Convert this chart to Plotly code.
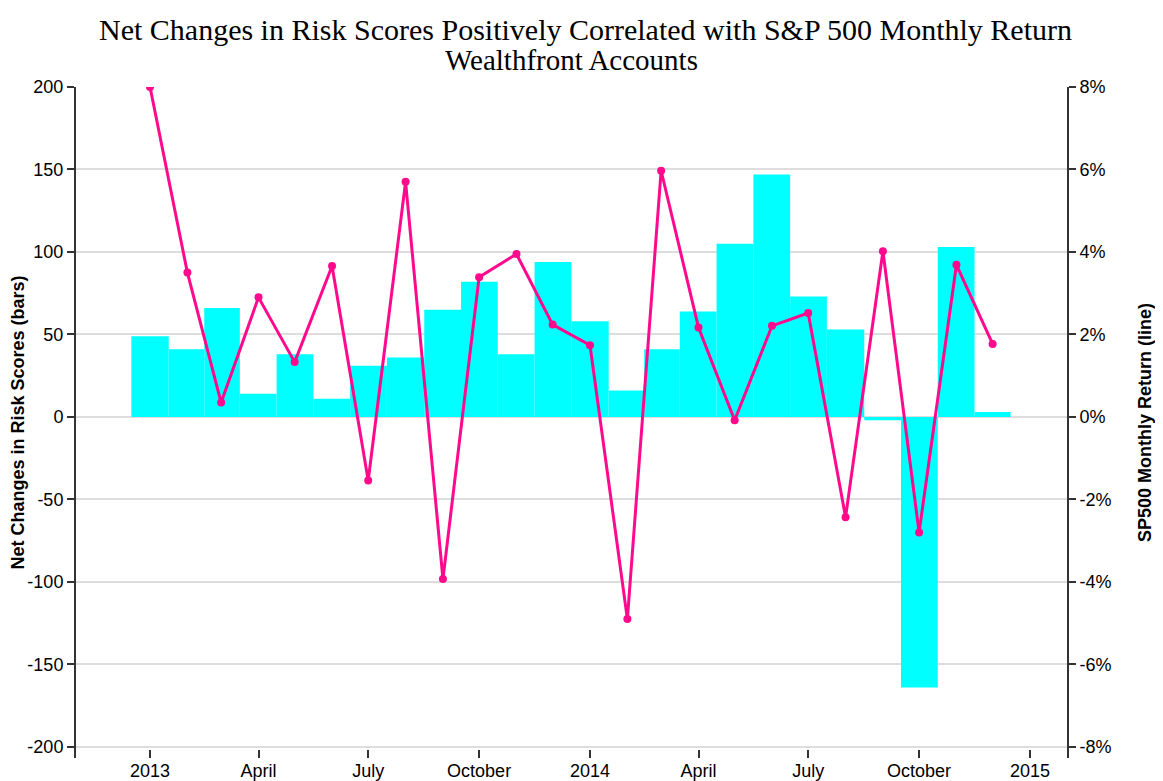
import pandas as pd
import plotly.graph_objects as go

# monthly data, Jan 2013 - Dec 2014
months = [
    "2013-01-01", "2013-02-01", "2013-03-01", "2013-04-01", "2013-05-01", "2013-06-01",
    "2013-07-01", "2013-08-01", "2013-09-01", "2013-10-01", "2013-11-01", "2013-12-01",
    "2014-01-01", "2014-02-01", "2014-03-01", "2014-04-01", "2014-05-01", "2014-06-01",
    "2014-07-01", "2014-08-01", "2014-09-01", "2014-10-01", "2014-11-01", "2014-12-01",
]
net_risk_changes = [
    49, 41, 66, 14, 38, 11, 31, 36, 65, 82, 38, 94,
    58, 16, 41, 64, 105, 147, 73, 53, -2, -164, 103, 3,
]
sp500_return = [
    8.0, 3.5, 0.35, 2.9, 1.33, 3.66, -1.54, 5.7, -3.93, 3.39, 3.95, 2.24,
    1.74, -4.9, 5.97, 2.17, -0.08, 2.21, 2.52, -2.43, 4.02, -2.8, 3.69, 1.77,
]
x_tick_vals = [
    "2013-01-01", "2013-04-01", "2013-07-01", "2013-10-01", "2014-01-01",
    "2014-04-01", "2014-07-01", "2014-10-01", "2015-01-01",
]
x_tick_text = ["2013", "April", "July", "October", "2014", "April", "July", "October", "2015"]
left_ticks = [-200, -150, -100, -50, 0, 50, 100, 150, 200]
left_tick_text = ["-200", "-150", "-100", "-50", "0", "50", "100", "150", "200"]
right_ticks = [-8, -6, -4, -2, 0, 2, 4, 6, 8]
right_tick_text = ["-8%", "-6%", "-4%", "-2%", "0%", "2%", "4%", "6%", "8%"]

# bars fill the space between midpoints of neighbouring months
dates = pd.to_datetime(pd.Series(months))
ms = dates.astype("int64") // 10**6
mids = ((ms + ms.shift(-1)) / 2).tolist()
left_edges = [ms[0] - (ms[1] - ms[0]) / 2] + mids[:-1]
right_edges = mids[:-1] + [ms.iloc[-1] + (ms.iloc[-1] - ms.iloc[-2]) / 2]
bar_width = [r - l for l, r in zip(left_edges, right_edges)]
bar_offset = [l - c for l, c in zip(left_edges, ms)]

sans = "Liberation Sans, Arial, sans-serif"
serif = "Liberation Serif, Times New Roman, serif"
axis_col = "#333333"
pink = "#ff0a8c"

# page body has an 8px margin, so the figure is 8px smaller than the window
W, H = 1155, 773
fig = go.Figure()
fig.add_trace(go.Bar(
    x=months, y=net_risk_changes, width=bar_width, offset=bar_offset,
    marker=dict(color="#00ffff", line=dict(width=0)), yaxis="y",
))
fig.add_trace(go.Scatter(
    x=months, y=sp500_return, mode="lines+markers", yaxis="y2",
    line=dict(color=pink, width=3),
    marker=dict(color=pink, size=8),
))

fig.update_layout(
    width=W, height=H,
    margin=dict(l=68, r=96, t=79, b=23, autoexpand=False),
    paper_bgcolor="white", plot_bgcolor="white",
    showlegend=False,
    title=dict(
        text="Net Changes in Risk Scores Positively Correlated with S&P 500 Monthly Return",
        x=0.5, xanchor="center", y=1 - 21 / H, yanchor="middle",
        font=dict(family=serif, size=30, color="black"),
    ),
    annotations=[dict(
        text="Wealthfront Accounts", xref="paper", yref="paper",
        x=0.5, y=1 + (79 - 52) / 671, xanchor="center", yanchor="middle",
        showarrow=False,
        font=dict(family=serif, size=29, color="black"),
    )],
    xaxis=dict(
        type="date", range=["2012-10-31 14:00", "2015-01-31 17:00"],
        tickvals=x_tick_vals, ticktext=x_tick_text,
        ticks="inside", ticklen=8, tickwidth=2, tickcolor=axis_col,
        showline=False, showgrid=False, zeroline=False,
        tickfont=dict(family=sans, size=18, color="black"),
        automargin=False,
    ),
    yaxis=dict(
        range=[-206.7, 200], tickvals=left_ticks, ticktext=left_tick_text,
        showline=True, linecolor=axis_col, linewidth=2,
        ticks="outside", ticklen=7, tickwidth=2, tickcolor=axis_col,
        showgrid=True, gridcolor="#dddddd", gridwidth=1.5, zeroline=False,
        tickfont=dict(family=sans, size=18, color="black"),
        title=dict(text="<b>Net Changes in Risk Scores (bars)</b>", standoff=0,
                   font=dict(family=sans, size=18, color="black")),
        automargin=False,
    ),
    yaxis2=dict(
        range=[-8.268, 8], tickvals=right_ticks, ticktext=right_tick_text,
        overlaying="y", side="right",
        showline=True, linecolor=axis_col, linewidth=2,
        ticks="outside", ticklen=7, tickwidth=2, tickcolor=axis_col,
        showgrid=False, zeroline=False,
        tickfont=dict(family=sans, size=18, color="black"),
        title=dict(text="<b>SP500 Monthly Return (line)</b>", standoff=28,
                   font=dict(family=sans, size=18, color="black")),
        automargin=False,
    ),
)

fig.write_html("out.html")
